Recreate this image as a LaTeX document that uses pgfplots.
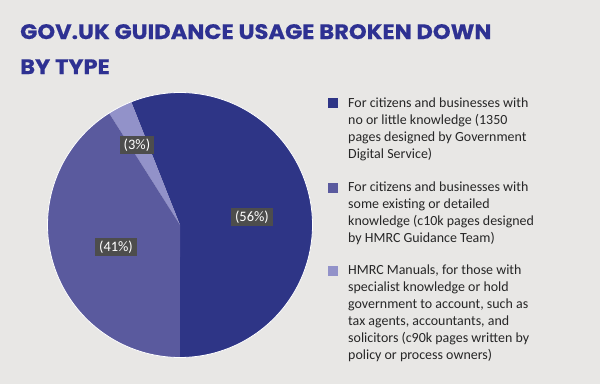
\documentclass[border=0pt]{standalone}
\usepackage{pgfplots}
\usepackage{pgfplotstable}
\pgfplotsset{compat=1.18}
\usepackage{fontspec}
\setmainfont{Carlito}
\newfontfamily\titlefont{Poppins}[BoldFeatures={FakeStretch=1.08,FakeBold=0.6}]
\definecolor{bg}{HTML}{E8E7E5}
\definecolor{c1}{HTML}{2E3586}
\definecolor{c2}{HTML}{5A5A9E}
\definecolor{c3}{HTML}{9292C9}
\definecolor{tc}{HTML}{2E3192}
\definecolor{lab}{HTML}{4D4D4D}
\pgfplotstableread{
share
56
41
3
}\pietable
\begin{document}
\begin{tikzpicture}[x=1bp,y=1bp]
\pgfplotstablegetelem{0}{share}\of\pietable \let\va\pgfplotsretval
\pgfplotstablegetelem{1}{share}\of\pietable \let\vb\pgfplotsretval
\pgfplotstablegetelem{2}{share}\of\pietable \let\vc\pgfplotsretval
\pgfmathsetmacro{\aA}{-90}
\pgfmathsetmacro{\aB}{\aA+3.6*\va}
\pgfmathsetmacro{\aC}{\aB+3.6*\vc}
\pgfmathsetmacro{\aD}{\aC+3.6*\vb}
\fill[bg] (0,0) rectangle (600,384);
\useasboundingbox (0,0) rectangle (600,384);
\begin{axis}[at={(180bp,159bp)}, anchor=origin, width=265bp, height=265bp,
  scale only axis, xmin=-1, xmax=1, ymin=-1, ymax=1, hide axis, clip=false]
\addplot[fill=c1, draw=none, domain=\aA:\aB, samples=120, variable=\t] ({cos(t)},{sin(t)}) -- (axis cs:0,0) -- cycle;
\addplot[fill=c3, draw=none, domain=\aB:\aC, samples=20, variable=\t] ({cos(t)},{sin(t)}) -- (axis cs:0,0) -- cycle;
\addplot[fill=c2, draw=none, domain=\aC:\aD, samples=100, variable=\t] ({cos(t)},{sin(t)}) -- (axis cs:0,0) -- cycle;
\addplot[draw=white, line width=0.8bp, domain=0:360, samples=200, variable=\t] ({cos(t)},{sin(t)});
\tikzset{lbl/.style={fill=lab, text=white, font=\fontsize{14.5}{14.5}\selectfont, inner xsep=4bp, inner ysep=2.5bp}}
\node[lbl] at (axis cs:0.543,0.06) {(\va\%)};
\node[lbl] at (axis cs:-0.483,-0.166) {(\vb\%)};
\node[lbl] at (axis cs:-0.325,0.604) {(\vc\%)};
\end{axis}
% title
\tikzset{ttl/.style={anchor=base west, text=tc, inner sep=0pt, font=\titlefont\bfseries\fontsize{21}{21}\selectfont}}
\node[ttl] at (20,345) {GOV.UK GUIDANCE USAGE BROKEN DOWN};
\node[ttl] at (20,310) {BY TYPE};
% legend
\tikzset{lg/.style={anchor=base west, inner sep=0pt, text=black!85, font=\fontsize{14}{14}\selectfont}}
\fill[c1] (328,276) rectangle (338,286);
\node[lg] at (348,277) {For citizens and businesses with};
\node[lg] at (348,260) {no or little knowledge (1350};
\node[lg] at (348,243) {pages designed by Government};
\node[lg] at (348,226) {Digital Service)};
\fill[c2] (328,191) rectangle (338,201);
\node[lg] at (348,193) {For citizens and businesses with};
\node[lg] at (348,176) {some existing or detailed};
\node[lg] at (348,159) {knowledge (c10k pages designed};
\node[lg] at (348,142) {by HMRC Guidance Team)};
\fill[c3] (328,108) rectangle (338,118);
\node[lg] at (348,110) {HMRC Manuals, for those with};
\node[lg] at (348,93) {specialist knowledge or hold};
\node[lg] at (348,76) {government to account, such as};
\node[lg] at (348,59) {tax agents, accountants, and};
\node[lg] at (348,42) {solicitors (c90k pages written by};
\node[lg] at (348,25) {policy or process owners)};
\end{tikzpicture}
\end{document}
